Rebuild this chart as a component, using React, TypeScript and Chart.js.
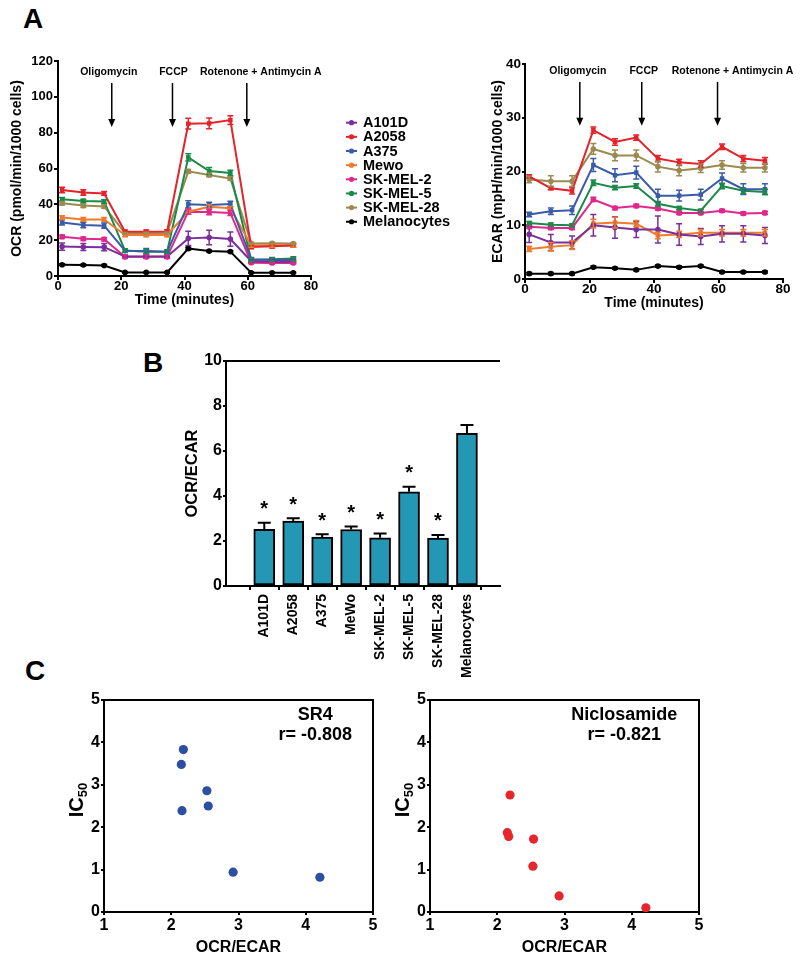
import React, { useEffect, useRef } from 'react';
import { Chart, registerables } from 'chart.js';
Chart.register(...registerables);

const FONT = '"Liberation Sans", Arial, Helvetica, sans-serif';

// ---------- Panel A data ----------
const times = [1.3, 8.0, 14.6, 21.2, 27.9, 34.5, 41.2, 47.8, 54.5, 61.1, 67.7, 74.4];
const cellLines = ['A101D', 'A2058', 'A375', 'Mewo', 'SK-MEL-2', 'SK-MEL-5', 'SK-MEL-28', 'Melanocytes'];
const lineColors = ['#7a2f9b', '#e4232a', '#3a5ba8', '#f07b2c', '#e0288c', '#1b8a48', '#9a8a52', '#000000'];
const pointShapes = ['circle', 'rect', 'rect', 'rect', 'circle', 'rect', 'circle', 'circle'];

const ocrA101D = [16.4, 16.2, 16.1, 10.9, 10.9, 10.9, 21.0, 21.5, 20.6, 8.2, 8.0, 8.0];
const ocrA2058 = [48.0, 46.6, 46.1, 24.7, 24.7, 24.8, 85.0, 85.2, 87.0, 16.2, 16.6, 17.0];
const ocrA375 = [29.9, 28.5, 28.1, 14.1, 13.9, 13.6, 40.0, 39.6, 40.2, 9.3, 8.9, 8.9];
const ocrMewo = [32.6, 31.6, 31.6, 22.9, 22.9, 22.9, 35.9, 38.7, 37.8, 17.0, 17.1, 17.1];
const ocrSKMEL2 = [21.9, 20.8, 20.5, 10.8, 10.8, 10.8, 35.9, 35.7, 35.2, 7.4, 7.3, 7.3];
const ocrSKMEL5 = [42.8, 41.9, 41.6, 14.2, 13.6, 13.6, 66.2, 58.6, 57.5, 8.9, 9.3, 9.7];
const ocrSKMEL28 = [40.6, 39.3, 38.8, 23.8, 23.9, 24.0, 58.4, 56.4, 54.4, 18.2, 18.3, 18.1];
const ocrMelanocytes = [6.3, 6.1, 5.9, 2.0, 2.0, 2.0, 15.3, 13.9, 13.6, 1.8, 1.8, 1.8];

const ocrErrA101D = [2, 2, 2, 1, 1, 1, 4, 4, 4, 1, 1, 1];
const ocrErrA2058 = [1.5, 1.5, 1, 1, 1, 1, 3, 3, 2.5, 1, 1, 1];
const ocrErrA375 = [1.5, 1.5, 1.5, 1, 1.5, 1, 2, 1.5, 1.5, 1, 1, 1];
const ocrErrMewo = [1, 1, 1, 1, 1, 1, 1.5, 1, 1, 1, 1, 1];
const ocrErrSKMEL2 = [1, 1, 1, 1, 1, 1, 1.5, 1.5, 1.5, 0.5, 0.5, 0.5];
const ocrErrSKMEL5 = [1, 1, 1, 1, 1, 1, 2, 2, 1.5, 1, 1, 1];
const ocrErrSKMEL28 = [1, 1, 1, 0.5, 0.5, 0.5, 1, 1, 1, 0.5, 0.5, 0.5];
const ocrErrMelanocytes = [0.5, 0.5, 0.5, 0.3, 0.3, 0.3, 0.8, 0.5, 0.5, 0.3, 0.3, 0.3];

const ecarA101D = [8.3, 6.8, 6.8, 10.0, 9.6, 9.2, 9.2, 8.3, 7.9, 8.4, 8.4, 8.1];
const ecarA2058 = [19.1, 16.9, 16.4, 27.7, 25.5, 26.3, 22.4, 21.7, 21.4, 24.6, 22.4, 22.0];
const ecarA375 = [12.0, 12.6, 12.8, 21.2, 19.3, 19.8, 15.5, 15.5, 15.7, 18.7, 16.7, 16.7];
const ecarMewo = [5.6, 6.0, 6.3, 10.3, 10.5, 10.3, 8.1, 8.3, 8.6, 8.6, 8.6, 8.6];
const ecarSKMEL2 = [9.7, 9.5, 9.5, 14.8, 13.2, 13.6, 13.1, 12.3, 12.3, 12.7, 12.2, 12.3];
const ecarSKMEL5 = [10.4, 10.1, 10.0, 17.9, 17.0, 17.3, 14.0, 13.2, 12.7, 17.3, 16.4, 16.2];
const ecarSKMEL28 = [18.5, 18.2, 18.2, 24.2, 23.0, 23.0, 20.9, 20.2, 20.6, 21.2, 20.7, 20.7];
const ecarMelanocytes = [1.0, 1.0, 1.0, 2.2, 2.0, 1.7, 2.4, 2.2, 2.4, 1.3, 1.3, 1.3];

const ecarErrA101D = [1.5, 1.5, 1.2, 2, 2, 1.5, 2.5, 2, 1.5, 1.5, 1.5, 1.5];
const ecarErrA2058 = [0.3, 0.3, 0.6, 0.6, 0.6, 0.5, 0.6, 0.6, 0.6, 0.5, 0.6, 0.6];
const ecarErrA375 = [0.4, 0.6, 0.8, 1.2, 1.2, 1.2, 1.2, 1, 1, 1, 1, 1];
const ecarErrMewo = [0.5, 0.8, 0.8, 0.8, 1, 0.6, 0.6, 0.6, 0.6, 0.6, 0.6, 0.6];
const ecarErrSKMEL2 = [0.3, 0.3, 0.3, 0.4, 0.3, 0.3, 0.3, 0.3, 0.3, 0.3, 0.3, 0.3];
const ecarErrSKMEL5 = [0.3, 0.3, 0.3, 0.5, 0.4, 0.4, 0.4, 0.3, 0.3, 0.5, 0.5, 0.5];
const ecarErrSKMEL28 = [0.6, 1, 1, 1, 1, 1, 1, 1, 0.8, 0.8, 0.8, 0.8];
const ecarErrMelanocytes = [0.2, 0.2, 0.2, 0.2, 0.2, 0.2, 0.2, 0.2, 0.2, 0.2, 0.2, 0.2];

const ocrSeries = [ocrA101D, ocrA2058, ocrA375, ocrMewo, ocrSKMEL2, ocrSKMEL5, ocrSKMEL28, ocrMelanocytes];
const ocrErrors = [ocrErrA101D, ocrErrA2058, ocrErrA375, ocrErrMewo, ocrErrSKMEL2, ocrErrSKMEL5, ocrErrSKMEL28, ocrErrMelanocytes];
const ecarSeries = [ecarA101D, ecarA2058, ecarA375, ecarMewo, ecarSKMEL2, ecarSKMEL5, ecarSKMEL28, ecarMelanocytes];
const ecarErrors = [ecarErrA101D, ecarErrA2058, ecarErrA375, ecarErrMewo, ecarErrSKMEL2, ecarErrSKMEL5, ecarErrSKMEL28, ecarErrMelanocytes];

const injectionTimes = [17.0, 36.2, 59.7];
const injectionLabels = ['Oligomycin', 'FCCP', 'Rotenone + Antimycin A'];

// ---------- Panel B data ----------
const ratioLabels = ['A101D', 'A2058', 'A375', 'MeWo', 'SK-MEL-2', 'SK-MEL-5', 'SK-MEL-28', 'Melanocytes'];
const ratioValues = [2.52, 2.89, 2.17, 2.51, 2.14, 4.19, 2.13, 6.79];
const ratioErrors = [0.29, 0.12, 0.13, 0.13, 0.19, 0.22, 0.14, 0.37];
const ratioSignificant = [true, true, true, true, true, true, true, false];

// ---------- Panel C data ----------
const sr4Ratio = [2.18, 2.15, 2.53, 2.55, 2.16, 2.92, 4.21];
const sr4IC50 = [3.83, 3.48, 2.86, 2.5, 2.39, 0.94, 0.82];
const niclosamideRatio = [2.19, 2.15, 2.17, 2.54, 2.53, 2.92, 4.21];
const niclosamideIC50 = [2.76, 1.87, 1.78, 1.72, 1.08, 0.38, 0.1];

// ---------- helpers ----------
type Box = { x: number; y: number; w: number; h: number };
type Area = { l: number; t: number; r: number; b: number };

function frame(box: Box, area: Area, yLeft: number, xBottom: number) {
  return {
    padding: { left: yLeft - box.x, top: area.t - box.y, right: box.x + box.w - area.r, bottom: box.y + box.h - xBottom },
    yW: area.l - yLeft,
    xH: xBottom - area.b,
  };
}

function axisBase(size: number, tickLen: number, pad: number) {
  return {
    border: { display: true, color: '#000', width: 2 },
    grid: { display: true, drawOnChartArea: false, drawTicks: true, tickLength: tickLen, color: '#000', lineWidth: 2 },
    ticks: { color: '#000', font: { family: FONT, size, weight: 'bold' }, padding: pad },
  };
}

function titleOf(text: string, size: number) {
  return { display: true, text, color: '#000', font: { family: FONT, size, weight: 'bold', lineHeight: 1.2 }, padding: 0 };
}

const errorBarPlugin = {
  id: 'lineErrorBars',
  afterDatasetsDraw(chart: any) {
    const ctx = chart.ctx;
    const ys = chart.scales.y;
    chart.data.datasets.forEach((ds: any, di: number) => {
      const meta = chart.getDatasetMeta(di);
      if (!ds.errors) return;
      ctx.save();
      ctx.strokeStyle = ds.borderColor;
      ctx.lineWidth = 1.5;
      meta.data.forEach((pt: any, i: number) => {
        const v = ds.data[i].y;
        const e = ds.errors[i];
        const y1 = ys.getPixelForValue(v + e);
        const y2 = ys.getPixelForValue(v - e);
        ctx.beginPath();
        ctx.moveTo(pt.x, y1); ctx.lineTo(pt.x, y2);
        ctx.moveTo(pt.x - 3, y1); ctx.lineTo(pt.x + 3, y1);
        ctx.moveTo(pt.x - 3, y2); ctx.lineTo(pt.x + 3, y2);
        ctx.stroke();
      });
      ctx.restore();
    });
  },
};

function injectionPlugin(labelY: number, arrowTop: number, arrowTip: number, offsets: number[]) {
  return {
    id: 'injections',
    afterDraw(chart: any) {
      const ctx = chart.ctx;
      const xs = chart.scales.x, ys = chart.scales.y;
      ctx.save();
      ctx.fillStyle = '#000';
      ctx.strokeStyle = '#000';
      ctx.font = `bold 10.5px ${FONT}`;
      ctx.textAlign = 'center';
      ctx.textBaseline = 'middle';
      injectionTimes.forEach((t, i) => {
        const x = xs.getPixelForValue(t);
        ctx.fillText(injectionLabels[i], x + offsets[i], ys.getPixelForValue(labelY));
        const yTop = ys.getPixelForValue(arrowTop);
        const yTip = ys.getPixelForValue(arrowTip);
        ctx.lineWidth = 1.5;
        ctx.beginPath();
        ctx.moveTo(x, yTop); ctx.lineTo(x, yTip - 6);
        ctx.stroke();
        ctx.beginPath();
        ctx.moveTo(x - 3.5, yTip - 8); ctx.lineTo(x + 3.5, yTip - 8); ctx.lineTo(x, yTip);
        ctx.closePath();
        ctx.fill();
      });
      ctx.restore();
    },
  };
}

const legendPlugin = {
  id: 'customLegend',
  afterDraw(chart: any) {
    const ctx = chart.ctx;
    ctx.save();
    ctx.font = `bold 14.5px ${FONT}`;
    ctx.textBaseline = 'middle';
    ctx.textAlign = 'left';
    cellLines.forEach((name, i) => {
      const y = 82.7 + i * 14.15;
      ctx.strokeStyle = lineColors[i];
      ctx.fillStyle = lineColors[i];
      ctx.lineWidth = 2;
      ctx.beginPath(); ctx.moveTo(346, y); ctx.lineTo(357, y); ctx.stroke();
      ctx.beginPath(); ctx.arc(351.5, y, 2.6, 0, Math.PI * 2); ctx.fill();
      ctx.fillStyle = '#000';
      ctx.fillText(name, 363, y + 0.5);
    });
    ctx.restore();
  },
};

function lineDatasets(series: number[][], errors: number[][]) {
  return series.map((vals, i) => ({
    label: cellLines[i],
    data: vals.map((v, j) => ({ x: times[j], y: v })),
    errors: errors[i],
    borderColor: lineColors[i],
    backgroundColor: lineColors[i],
    borderWidth: 2,
    pointRadius: pointShapes[i] === 'rect' ? 3.2 : 2.8,
    pointStyle: pointShapes[i],
    pointBorderWidth: 0,
    tension: 0,
  }));
}

// ---------- chart configs ----------
const boxOCR: Box = { x: 0, y: 40, w: 460, h: 275 };
const areaOCR: Area = { l: 58, t: 61, r: 311, b: 276 };
const boxECAR: Box = { x: 470, y: 40, w: 330, h: 275 };
const areaECAR: Area = { l: 525, t: 64, r: 783, b: 279 };
const boxB: Box = { x: 130, y: 340, w: 390, h: 355 };
const areaB: Area = { l: 226, t: 361, r: 500, b: 586 };
const boxC1: Box = { x: 20, y: 685, w: 365, h: 280 };
const areaC1: Area = { l: 104, t: 700, r: 373, b: 912 };
const boxC2: Box = { x: 385, y: 685, w: 400, h: 280 };
const areaC2: Area = { l: 430, t: 700, r: 699, b: 912 };

function timeChart(box: Box, area: Area, yTitle: string, yMax: number, yStep: number, series: number[][], errors: number[][],
  titleCx: number, xTitleCy: number, tickSize: number, yTickLen: number, yTickPad: number, xTickPad: number,
  inj: [number, number, number], offsets: number[], withLegend: boolean) {
  const F = frame(box, area, titleCx - 8.4, xTitleCy + 8.4);
  const plugins: any[] = [errorBarPlugin, injectionPlugin(inj[0], inj[1], inj[2], offsets)];
  if (withLegend) plugins.push(legendPlugin);
  return {
    type: 'line',
    data: { datasets: lineDatasets(series, errors) },
    options: {
      responsive: false,
      animation: false,
      events: [],
      layout: { padding: F.padding },
      plugins: { legend: { display: false }, tooltip: { enabled: false } },
      scales: {
        x: {
          type: 'linear', min: 0, max: 80,
          ...axisBase(tickSize, 4, xTickPad),
          ticks: { ...axisBase(tickSize, 4, xTickPad).ticks, stepSize: 20 },
          title: titleOf('Time (minutes)', 14),
          afterFit: (s: any) => { s.height = F.xH; },
        },
        y: {
          type: 'linear', min: 0, max: yMax,
          ...axisBase(tickSize, yTickLen, yTickPad),
          ticks: { ...axisBase(tickSize, yTickLen, yTickPad).ticks, stepSize: yStep },
          title: titleOf(yTitle, 14),
          afterFit: (s: any) => { s.width = F.yW; },
        },
      },
    },
    plugins,
  };
}

function makeOCR() {
  return timeChart(boxOCR, areaOCR, 'OCR (pmol/min/1000 cells)', 120, 20, ocrSeries, ocrErrors,
    17.5, 300, 13, 4, 1, -1, [113.8, 107.7, 83.1], [-3, 1, 14], true);
}
function makeECAR() {
  return timeChart(boxECAR, areaECAR, 'ECAR (mpH/min/1000 cells)', 40, 10, ecarSeries, ecarErrors,
    498, 303, 13.5, 3, 1, -2, [38.6, 36.65, 28.5], [-2, 2, 15], false);
}

function makeB() {
  const F = frame(boxB, areaB, 192 - 9.9, 690);
  const tb = axisBase(14, 4, 4);
  const yb = axisBase(16, 3, 1);
  return {
    type: 'bar',
    data: {
      datasets: [{
        data: ratioValues.map((v, i) => ({ x: i, y: v })),
        backgroundColor: '#2397b3',
        borderColor: '#000',
        borderWidth: 2,
        borderSkipped: false,
        barThickness: 21,
      }],
    },
    options: {
      responsive: false,
      animation: false,
      events: [],
      layout: { padding: F.padding },
      plugins: { legend: { display: false }, tooltip: { enabled: false } },
      scales: {
        x: {
          type: 'linear', min: -0.73, max: 7.55,
          ...tb,
          ticks: { ...tb.ticks, autoSkip: false, minRotation: 90, maxRotation: 90, callback: (v: number) => ratioLabels[v] ?? '' },
          afterBuildTicks: (s: any) => { s.ticks = ratioLabels.map((_, i) => ({ value: i })); },
          afterFit: (s: any) => { s.height = F.xH; },
        },
        y: {
          type: 'linear', min: 0, max: 10,
          ...yb,
          ticks: { ...yb.ticks, stepSize: 2 },
          title: titleOf('OCR/ECAR', 16.5),
          afterFit: (s: any) => { s.width = F.yW; },
        },
      },
    },
    plugins: [{
      id: 'barExtras',
      afterDatasetsDraw(chart: any) {
        const ctx = chart.ctx;
        const ys = chart.scales.y;
        const meta = chart.getDatasetMeta(0);
        const a = chart.chartArea;
        ctx.save();
        ctx.strokeStyle = '#000';
        ctx.fillStyle = '#000';
        ctx.lineWidth = 2;
        ctx.beginPath(); ctx.moveTo(a.left, a.top); ctx.lineTo(a.right, a.top); ctx.stroke();
        meta.data.forEach((bar: any, i: number) => {
          const yBar = ys.getPixelForValue(ratioValues[i]);
          const yTop = ys.getPixelForValue(ratioValues[i] + ratioErrors[i]);
          ctx.beginPath();
          ctx.moveTo(bar.x, yBar); ctx.lineTo(bar.x, yTop);
          ctx.moveTo(bar.x - 6.5, yTop); ctx.lineTo(bar.x + 6.5, yTop);
          ctx.stroke();
          if (ratioSignificant[i]) {
            ctx.font = `bold 20px ${FONT}`;
            ctx.textAlign = 'center';
            ctx.textBaseline = 'alphabetic';
            ctx.fillText('*', bar.x, yTop - 7.5);
          }
        });
        ctx.restore();
      },
    }],
  };
}

function makeScatter(box: Box, area: Area, yLeft: number, xs: number[], ys: number[], color: string,
  name: string, rText: string, textX: number, icCx: number) {
  const F = frame(box, area, yLeft, 957.6);
  const xb = axisBase(16, 3, 1);
  const yb = axisBase(16, 3, 1);
  return {
    type: 'scatter',
    data: {
      datasets: [{
        data: xs.map((x, i) => ({ x, y: ys[i] })),
        backgroundColor: color,
        borderWidth: 0,
        pointRadius: 4.6,
      }],
    },
    options: {
      responsive: false,
      animation: false,
      events: [],
      layout: { padding: F.padding },
      plugins: { legend: { display: false }, tooltip: { enabled: false } },
      scales: {
        x: {
          type: 'linear', min: 1, max: 5,
          ...xb,
          ticks: { ...xb.ticks, stepSize: 1 },
          title: titleOf('OCR/ECAR', 16),
          afterFit: (s: any) => { s.height = F.xH; },
        },
        y: {
          type: 'linear', min: 0, max: 5,
          ...yb,
          ticks: { ...yb.ticks, stepSize: 1 },
          afterFit: (s: any) => { s.width = F.yW; },
        },
      },
    },
    plugins: [{
      id: 'scatterExtras',
      afterDraw(chart: any) {
        const ctx = chart.ctx;
        const a = chart.chartArea;
        const sx = chart.scales.x, sy = chart.scales.y;
        ctx.save();
        ctx.strokeStyle = '#000';
        ctx.lineWidth = 2;
        ctx.beginPath();
        ctx.moveTo(a.left, a.top); ctx.lineTo(a.right, a.top); ctx.lineTo(a.right, a.bottom);
        ctx.stroke();
        ctx.fillStyle = '#000';
        ctx.textAlign = 'center';
        ctx.textBaseline = 'middle';
        ctx.font = `bold 18px ${FONT}`;
        ctx.fillText(name, sx.getPixelForValue(textX), sy.getPixelForValue(4.65));
        ctx.fillText(rText, sx.getPixelForValue(textX), sy.getPixelForValue(4.18));
        // IC50 axis title
        const cx = icCx - box.x;
        const cy = (a.top + a.bottom) / 2 - 6;
        ctx.translate(cx, cy);
        ctx.rotate(-Math.PI / 2);
        ctx.textAlign = 'left';
        ctx.textBaseline = 'alphabetic';
        ctx.font = `bold 20px ${FONT}`;
        const w1 = ctx.measureText('IC').width;
        ctx.font = `bold 13px ${FONT}`;
        const w2 = ctx.measureText('50').width;
        const start = -(w1 + w2) / 2;
        ctx.font = `bold 20px ${FONT}`;
        ctx.fillText('IC', start, 7);
        ctx.font = `bold 13px ${FONT}`;
        ctx.fillText('50', start + w1, 11);
        ctx.restore();
      },
    }],
  };
}

function ChartCanvas({ box, make }: { box: Box; make: () => any }) {
  const ref = useRef<HTMLCanvasElement>(null);
  useEffect(() => {
    const chart = new Chart(ref.current as HTMLCanvasElement, make());
    return () => chart.destroy();
  }, []);
  return (
    <canvas ref={ref} width={box.w} height={box.h}
      style={{ position: 'absolute', left: box.x, top: box.y, width: box.w, height: box.h }} />
  );
}

const letterStyle = (left: number, top: number): React.CSSProperties => ({
  position: 'absolute', left, top, fontFamily: FONT, fontWeight: 'bold', fontSize: 28, lineHeight: '28px', color: '#000',
});

export default function App() {
  return (
    <div style={{ position: 'absolute', left: 0, top: 0, width: 800, height: 965, background: '#fff', overflow: 'hidden' }}>
      <div style={letterStyle(23, 5)}>A</div>
      <div style={letterStyle(143, 349)}>B</div>
      <div style={letterStyle(25, 657)}>C</div>
      <ChartCanvas box={boxOCR} make={makeOCR} />
      <ChartCanvas box={boxECAR} make={makeECAR} />
      <ChartCanvas box={boxB} make={makeB} />
      <ChartCanvas box={boxC1} make={() => makeScatter(boxC1, areaC1, 30, sr4Ratio, sr4IC50, '#2c4ea3', 'SR4', 'r= -0.808', 4.14, 76)} />
      <ChartCanvas box={boxC2} make={() => makeScatter(boxC2, areaC2, 392, niclosamideRatio, niclosamideIC50, '#e5262c', 'Niclosamide', 'r= -0.821', 3.89, 402)} />
    </div>
  );
}
